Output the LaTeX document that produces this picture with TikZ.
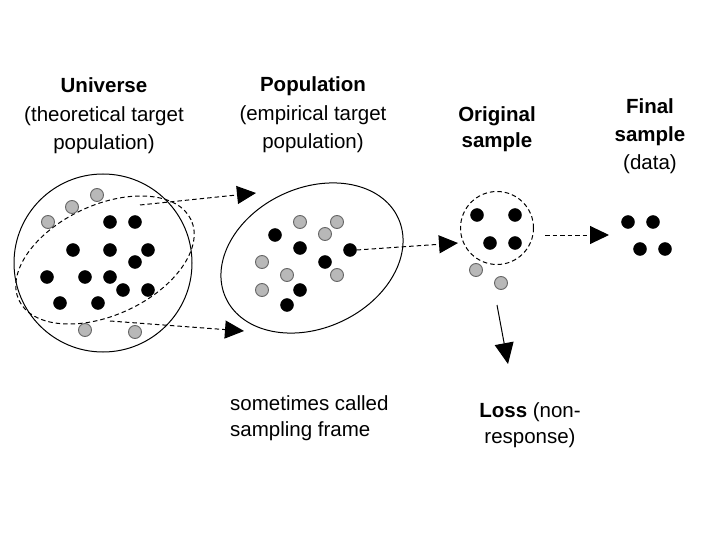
\documentclass[tikz,border=0pt]{standalone}
\usepackage{fontspec}
\setmainfont{Liberation Sans}
\usetikzlibrary{arrows.meta,shapes.geometric}
\tikzset{
  blk/.style={circle,fill=black,draw=black,inner sep=0pt,minimum size=13pt},
  gry/.style={circle,fill=black!28,draw=black!60,line width=0.9pt,inner sep=0pt,minimum size=13pt},
  dsh/.style={dash pattern=on 4.5pt off 3pt,line width=1pt},
  arr/.style={dsh,-{Triangle[length=19pt,width=18pt]}},
  lbl/.style={font=\fontsize{20.5}{28.5}\selectfont,align=center,inner sep=0pt,anchor=base},
}
\begin{document}
\begin{tikzpicture}[x=1pt,y=-1pt]
\useasboundingbox (0,0) rectangle (720,540);
% Universe
\node[circle,draw,line width=1pt,minimum size=178pt,inner sep=0pt] (univ) at (103,263) {};
\node[ellipse,draw,dsh,minimum width=190pt,minimum height=110pt,inner sep=0pt,rotate=25] (frame) at (105,260) {};
\foreach \n/\p in {g1/{(97,195)},g2/{(72,207)},g3/{(48,222)},g4/{(85,330)},g5/{(135,332)}}
  \node[gry] (u\n) at \p {};
\foreach \n/\p in {b1/{(110,222)},b2/{(135,222)},b3/{(73,250)},b4/{(110,250)},b5/{(148,250)},b6/{(135,262)},b7/{(47,277)},b8/{(85,277)},b9/{(110,277)},b10/{(123,290)},b11/{(148,290)},b12/{(60,303)},b13/{(98,303)}}
  \node[blk] (u\n) at \p {};
% Population
\node[ellipse,draw,line width=1pt,minimum width=190pt,minimum height=140pt,inner sep=0pt,rotate=25] (pop) at (312,258) {};
\foreach \n/\p in {g1/{(300,222)},g2/{(337,222)},g3/{(325,234)},g4/{(262,262)},g5/{(287,275)},g6/{(337,275)},g7/{(262,290)}}
  \node[gry] (p\n) at \p {};
\foreach \n/\p in {b1/{(275,235)},b2/{(300,248)},b3/{(350,250)},b4/{(325,262)},b5/{(300,290)},b6/{(287,305)}}
  \node[blk] (p\n) at \p {};
% Original sample
\node[circle,draw,dsh,minimum size=73pt,inner sep=0pt] (orig) at (497,228) {};
\foreach \n/\p in {b1/{(477,215)},b2/{(515,215)},b3/{(490,243)},b4/{(515,243)}}
  \node[blk] (o\n) at \p {};
\node[gry] (og1) at (476,270) {};
\node[gry] (og2) at (501,283) {};
% Final sample
\foreach \n/\p in {b1/{(628,222)},b2/{(653,222)},b3/{(640,249)},b4/{(665,249)}}
  \node[blk] (f\n) at \p {};
% arrows
\coordinate (t1) at (140,205);
\coordinate (h1) at (256,193);
\coordinate (t2) at (110,321);
\coordinate (h2) at (244,331);
\coordinate (h3) at (458,243);
\coordinate (t4) at (545,235);
\coordinate (h4) at (609,235);
\coordinate (t5) at (497,305);
\coordinate (h5) at (508,364);
\draw[arr] (t1) -- (h1);
\draw[arr] (t2) -- (h2);
\draw[arr] (pb3.east) -- (h3);
\draw[arr] (t4) -- (h4);
\draw[line width=1pt,-{Triangle[length=21pt,width=19pt]}] (t5) -- (h5);
% labels (anchor = baseline of last line)
\node[lbl] (lu) at (104,150) {\textbf{Universe}\\(theoretical target\\population)};
\node[lbl] (lp) at (313,149) {\textbf{Population}\\(empirical target\\population)};
\node[lbl,font=\fontsize{20.5}{26.5}\selectfont] (lo) at (497,148) {\textbf{Original}\\\textbf{sample}};
\node[lbl,font=\fontsize{20.5}{28}\selectfont] (lf) at (650,170) {\textbf{Final}\\\textbf{sample}\\(data)};
\node[lbl,align=left,anchor=base west,font=\fontsize{20.5}{26}\selectfont] (ls) at (230,436) {sometimes called\\sampling frame};
\node[lbl,font=\fontsize{20.5}{25.5}\selectfont] (ll) at (530,443) {\textbf{Loss} (non-\\response)};
\end{tikzpicture}
\end{document}
